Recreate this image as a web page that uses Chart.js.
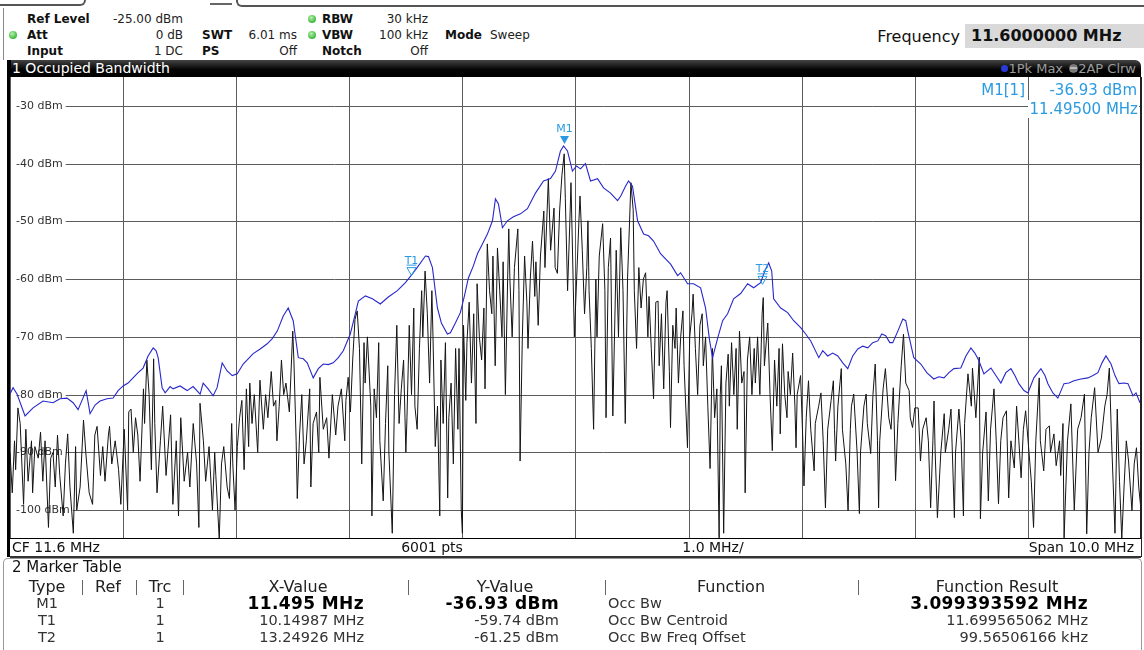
<!DOCTYPE html>
<html>
<head>
<meta charset="utf-8">
<script src="https://cdn.jsdelivr.net/npm/chart.js@4.4.1/dist/chart.umd.min.js"></script>
<style>
  html,body{margin:0;padding:0;}
  body{width:1144px;height:650px;overflow:hidden;background:#fff;position:relative;
       font-family:"DejaVu Sans",Verdana,sans-serif;color:#222;}
  .t{position:absolute;white-space:nowrap;height:16px;line-height:16px;font-size:12px;}
  .b{font-weight:bold;color:#111;}
  .r{text-align:right;}
  .c{text-align:center;}
  .dot{position:absolute;width:8px;height:8px;border-radius:50%;
       background:radial-gradient(circle at 40% 35%,#b8f0b0,#3fb83a 70%);}
  .line{position:absolute;background:#555;}
  #plot{position:absolute;left:10px;top:77px;width:1131px;height:462px;}
  .mk{position:absolute;white-space:nowrap;font-size:15px;line-height:18px;height:18px;color:#2a9be0;}
  .bb{position:absolute;white-space:nowrap;font-size:14px;line-height:17px;height:17px;color:#111;}
  .tb{position:absolute;white-space:nowrap;font-size:16px;line-height:17px;height:17px;color:#222;}
  .tv{position:absolute;white-space:nowrap;font-size:14.5px;line-height:17px;height:17px;color:#333;}
  .tvb{position:absolute;white-space:nowrap;font-size:17px;line-height:17px;height:17px;color:#000;font-weight:bold;letter-spacing:0.4px;}
</style>
</head>
<body>

<!-- softkey tabs along the top edge -->
<div style="position:absolute;left:0;top:0;width:84px;height:4px;border-bottom:2px solid #555;border-right:2px solid #555;border-bottom-right-radius:6px;"></div>
<div style="position:absolute;left:210px;top:3px;width:22px;height:2px;background:#666;"></div>
<div style="position:absolute;left:236px;top:0;width:908px;height:5px;border-bottom:2px solid #555;border-left:2px solid #555;border-bottom-left-radius:6px;"></div>
<div style="position:absolute;left:3px;top:8px;width:1px;height:52px;background:#888;"></div>

<!-- instrument settings -->
<div class="t b" style="left:27px;top:11px;">Ref Level</div>
<div class="t r" style="left:100px;width:83px;top:11px;">-25.00 dBm</div>
<div class="dot" style="left:9px;top:31px;"></div>
<div class="t b" style="left:27px;top:27px;">Att</div>
<div class="t r" style="left:90px;width:93px;top:27px;">0 dB</div>
<div class="t b" style="left:27px;top:43px;">Input</div>
<div class="t r" style="left:90px;width:93px;top:43px;">1 DC</div>
<div class="t b" style="left:202px;top:27px;">SWT</div>
<div class="t r" style="left:230px;width:67px;top:27px;">6.01 ms</div>
<div class="t b" style="left:202px;top:43px;">PS</div>
<div class="t r" style="left:230px;width:67px;top:43px;">Off</div>
<div class="dot" style="left:308px;top:15px;"></div>
<div class="dot" style="left:308px;top:31px;"></div>
<div class="t b" style="left:322px;top:11px;">RBW</div>
<div class="t r" style="left:360px;width:68px;top:11px;">30 kHz</div>
<div class="t b" style="left:322px;top:27px;">VBW</div>
<div class="t r" style="left:360px;width:68px;top:27px;">100 kHz</div>
<div class="t b" style="left:322px;top:43px;">Notch</div>
<div class="t r" style="left:360px;width:68px;top:43px;">Off</div>
<div class="t b" style="left:445px;top:27px;">Mode</div>
<div class="t" style="left:490px;top:27px;">Sweep</div>

<div class="t r" style="left:830px;width:130px;top:27px;height:20px;line-height:20px;font-size:16px;color:#111;">Frequency</div>
<div style="position:absolute;left:965px;top:24px;width:179px;height:24px;background:#d9d9d9;"></div>
<div class="t b" style="left:971px;top:26px;height:20px;line-height:20px;font-size:16px;color:#111;">11.6000000 MHz</div>

<!-- window title bar -->
<div style="position:absolute;left:8px;top:60px;width:1133px;height:17px;background:linear-gradient(#444,#050505 55%,#000);border-top-right-radius:6px;"></div>
<div class="t" style="left:12px;top:60px;height:17px;line-height:17px;font-size:14px;color:#fff;">1 Occupied Bandwidth</div>
<div class="t r" style="left:900px;width:236px;top:60px;height:17px;line-height:17px;font-size:13px;color:#9a9a9a;">
  <span style="display:inline-block;width:7px;height:7px;border-radius:50%;background:#2a3ad8;vertical-align:1px;"></span>1Pk Max
  <span style="display:inline-block;width:7px;height:7px;border-radius:50%;border:1px solid #888;background:linear-gradient(#777 0 30%,#bbb 30% 60%,#777 60%);vertical-align:0px;margin-left:2px;"></span>2AP Clrw</div>

<!-- diagram frame -->
<div style="position:absolute;left:7px;top:60px;width:4px;height:497px;background:#000;"></div>
<div id="plot"><canvas id="c" width="1131" height="462"></canvas></div>
<div style="position:absolute;left:1140px;top:77px;width:2px;height:480px;background:#222;"></div>

<!-- marker readout -->
<div id="mkName" class="mk r" style="left:930px;width:95px;top:81px;"></div>
<div id="mkLevel" class="mk r" style="left:1030px;width:107px;top:81px;"></div>
<div id="mkFreq" class="mk r" style="left:1028px;width:110px;top:100px;background:#fff;padding-right:1px;"></div>

<!-- footer of the diagram -->
<div style="position:absolute;left:10px;top:538px;width:1131px;height:17px;border-top:1px solid #000;border-bottom:2px solid #333;background:#fff;"></div>
<div class="bb" style="left:12px;top:539px;">CF 11.6 MHz</div>
<div class="bb c" style="left:382px;width:100px;top:539px;">6001 pts</div>
<div class="bb c" style="left:663px;width:100px;top:539px;">1.0 MHz/</div>
<div class="bb r" style="left:934px;width:200px;top:539px;">Span 10.0 MHz</div>

<!-- marker table window -->
<div style="position:absolute;left:3px;top:558px;width:1137px;height:92px;border:1px solid #999;border-bottom:none;border-radius:5px 5px 0 0;"></div>
<div class="tb" style="left:12px;top:559px;color:#111;font-size:15px;">2 Marker Table</div>
<div id="table"></div>

<script>
// ---- trace 1: 1Pk Max (frequency in MHz, level in dBm) ----
const pkMaxFreq = [
  6.600,6.627,6.662,6.733,6.804,6.892,6.981,7.042,7.104,7.158,
  7.202,7.273,7.308,7.352,7.396,7.458,7.512,7.556,7.600,7.644,
  7.688,7.733,7.777,7.821,7.866,7.892,7.910,7.945,7.972,8.016,
  8.042,8.104,8.166,8.219,8.281,8.308,8.352,8.396,8.431,8.476,
  8.520,8.565,8.609,8.662,8.706,8.750,8.812,8.874,8.919,8.963,
  9.016,9.060,9.104,9.149,9.193,9.228,9.281,9.326,9.370,9.414,
  9.458,9.503,9.547,9.609,9.653,9.680,9.742,9.804,9.874,9.945,
  10.025,10.096,10.158,10.211,10.273,10.300,10.335,10.379,10.414,10.467,
  10.494,10.538,10.582,10.618,10.653,10.697,10.733,10.777,10.821,10.866,
  10.892,10.919,10.954,10.998,11.051,11.113,11.175,11.212,11.246,11.317,
  11.379,11.423,11.467,11.495,11.529,11.573,11.609,11.644,11.688,11.733,
  11.795,11.848,11.910,11.972,12.000,12.042,12.069,12.104,12.149,12.202,
  12.246,12.290,12.352,12.396,12.441,12.503,12.529,12.591,12.644,12.706,
  12.750,12.786,12.812,12.857,12.901,12.945,12.998,13.060,13.122,13.175,
  13.237,13.273,13.308,13.335,13.352,13.414,13.476,13.529,13.591,13.635,
  13.680,13.751,13.786,13.830,13.874,13.919,13.963,14.007,14.051,14.096,
  14.140,14.184,14.228,14.273,14.308,14.343,14.379,14.405,14.450,14.494,
  14.520,14.538,14.591,14.653,14.706,14.768,14.812,14.858,14.902,14.946,
  15.007,15.052,15.096,15.131,15.166,15.211,15.273,15.317,15.361,15.405,
  15.450,15.485,15.520,15.565,15.600,15.653,15.715,15.751,15.777,15.821,
  15.865,15.919,15.963,16.007,16.069,16.131,16.175,16.219,16.255,16.290,
  16.335,16.370,16.405,16.450,16.485,16.529,16.556,16.591
];
const pkMaxLevel = [
  -79.9,-78.8,-79.9,-83.7,-82.3,-81.1,-81.4,-80.7,-80.6,-81.4,
  -82.6,-79.3,-83.3,-81.8,-81.1,-80.7,-80.6,-79.3,-78.5,-78.0,
  -77.1,-76.2,-75.4,-73.3,-71.9,-72.4,-73.6,-78.8,-79.7,-78.6,
  -79.0,-78.5,-79.3,-78.6,-79.9,-78.0,-79.0,-80.2,-78.8,-74.5,
  -75.9,-76.7,-76.4,-74.7,-73.8,-72.9,-72.1,-71.2,-70.3,-69.0,
  -66.4,-65.0,-67.2,-73.6,-73.8,-74.5,-77.1,-75.5,-74.7,-74.8,
  -74.5,-73.6,-72.4,-69.5,-66.0,-63.8,-62.9,-63.4,-64.3,-63.1,
  -62.0,-60.6,-59.1,-57.7,-56.0,-56.1,-58.0,-65.0,-67.6,-69.5,
  -69.3,-67.6,-65.8,-62.9,-59.8,-57.7,-55.6,-53.9,-52.2,-49.9,
  -46.1,-47.0,-51.1,-49.9,-49.2,-48.7,-47.8,-46.4,-45.1,-43.0,
  -42.6,-41.3,-37.8,-36.93,-37.8,-41.3,-40.4,-40.9,-40.0,-43.0,
  -42.6,-44.2,-45.1,-46.4,-45.6,-43.9,-43.0,-43.9,-49.9,-52.2,
  -52.5,-53.4,-55.6,-56.5,-57.4,-59.4,-58.9,-60.8,-60.8,-61.5,
  -65.0,-70.7,-73.6,-70.2,-67.2,-66.0,-63.4,-62.5,-60.8,-61.5,
  -60.6,-58.6,-57.2,-58.6,-63.4,-65.0,-65.8,-67.2,-68.4,-69.5,
  -70.7,-73.6,-72.4,-73.3,-72.8,-73.3,-74.5,-75.5,-73.3,-72.1,
  -71.6,-71.9,-71.0,-70.7,-69.5,-69.8,-71.0,-71.0,-69.0,-66.9,
  -67.2,-69.0,-73.6,-74.7,-76.2,-77.3,-76.9,-77.1,-76.2,-75.5,
  -75.4,-73.3,-71.9,-72.8,-74.1,-76.4,-75.4,-76.7,-78.0,-76.2,
  -75.5,-76.7,-78.1,-79.3,-79.7,-77.1,-75.5,-76.7,-78.1,-79.7,
  -80.6,-78.1,-78.0,-77.6,-77.3,-77.1,-76.7,-76.2,-74.5,-73.3,
  -74.7,-76.7,-78.1,-78.0,-78.1,-80.2,-79.7,-81.4
];

// ---- trace 2: 2AP Clrw (frequency in MHz, level in dBm) ----
const clrwFreq = [
  6.60,6.62,6.64,6.65,6.67,6.69,6.72,6.74,6.76,6.79,
  6.80,6.82,6.85,6.87,6.89,6.91,6.94,6.96,6.98,7.00,
  7.02,7.04,7.07,7.09,7.11,7.13,7.16,7.18,7.19,7.22,
  7.25,7.27,7.30,7.33,7.35,7.37,7.40,7.42,7.44,7.47,
  7.48,7.50,7.53,7.56,7.58,7.61,7.64,7.65,7.67,7.69,
  7.71,7.73,7.75,7.78,7.79,7.81,7.83,7.85,7.87,7.88,
  7.90,7.93,7.95,7.98,8.02,8.04,8.07,8.09,8.11,8.14,
  8.17,8.19,8.22,8.25,8.27,8.28,8.31,8.33,8.36,8.39,
  8.41,8.42,8.45,8.47,8.49,8.52,8.54,8.56,8.57,8.59,
  8.61,8.63,8.65,8.67,8.69,8.71,8.72,8.74,8.76,8.79,
  8.81,8.84,8.86,8.88,8.91,8.93,8.95,8.96,8.98,9.00,
  9.02,9.04,9.07,9.10,9.11,9.13,9.14,9.16,9.18,9.20,
  9.22,9.25,9.26,9.28,9.31,9.33,9.34,9.37,9.40,9.42,
  9.45,9.48,9.50,9.53,9.56,9.57,9.59,9.61,9.63,9.65,
  9.67,9.69,9.71,9.73,9.74,9.76,9.79,9.80,9.82,9.84,
  9.86,9.87,9.90,9.92,9.94,9.95,9.98,10.00,10.02,10.04,
  10.06,10.08,10.10,10.11,10.13,10.15,10.17,10.18,10.20,10.22,
  10.24,10.25,10.27,10.29,10.31,10.33,10.34,10.36,10.38,10.40,
  10.41,10.43,10.45,10.47,10.48,10.50,10.52,10.54,10.56,10.57,
  10.59,10.60,10.61,10.63,10.64,10.66,10.68,10.70,10.72,10.73,
  10.75,10.77,10.79,10.80,10.82,10.84,10.86,10.87,10.89,10.91,
  10.93,10.95,10.96,10.98,11.00,11.01,11.02,11.04,11.06,11.09,
  11.10,11.11,11.13,11.15,11.17,11.18,11.20,11.22,11.24,11.25,
  11.27,11.29,11.32,11.33,11.36,11.38,11.41,11.42,11.44,11.46,
  11.48,11.50,11.51,11.53,11.55,11.56,11.57,11.59,11.61,11.63,
  11.64,11.66,11.68,11.70,11.71,11.72,11.74,11.76,11.78,11.79,
  11.81,11.84,11.86,11.87,11.89,11.91,11.93,11.95,11.96,11.98,
  12.00,12.02,12.04,12.06,12.09,12.11,12.12,12.14,12.16,12.18,
  12.20,12.22,12.24,12.25,12.27,12.29,12.31,12.33,12.34,12.36,
  12.38,12.40,12.41,12.43,12.44,12.46,12.48,12.49,12.51,12.53,
  12.55,12.56,12.59,12.61,12.63,12.64,12.66,12.68,12.70,12.72,
  12.73,12.75,12.77,12.79,12.81,12.83,12.85,12.87,12.88,12.89,
  12.91,12.93,12.95,12.96,12.98,13.00,13.02,13.03,13.05,13.07,
  13.09,13.10,13.12,13.14,13.16,13.18,13.19,13.21,13.23,13.25,
  13.26,13.27,13.29,13.30,13.32,13.34,13.36,13.38,13.40,13.41,
  13.43,13.45,13.47,13.48,13.50,13.52,13.54,13.55,13.56,13.59,
  13.61,13.62,13.64,13.66,13.68,13.71,13.72,13.75,13.77,13.79,
  13.81,13.83,13.86,13.88,13.89,13.90,13.92,13.95,13.96,13.99,
  14.01,14.03,14.04,14.06,14.09,14.11,14.12,14.15,14.17,14.18,
  14.21,14.23,14.25,14.27,14.28,14.29,14.32,14.34,14.37,14.39,
  14.41,14.43,14.45,14.48,14.50,14.52,14.55,14.56,14.58,14.60,
  14.63,14.65,14.67,14.70,14.72,14.74,14.76,14.77,14.78,14.80,
  14.83,14.86,14.87,14.90,14.92,14.95,14.96,14.99,15.01,15.03,
  15.04,15.07,15.10,15.11,15.14,15.17,15.18,15.20,15.23,15.25,
  15.27,15.30,15.32,15.34,15.36,15.38,15.41,15.43,15.45,15.48,
  15.50,15.52,15.54,15.56,15.58,15.61,15.63,15.65,15.67,15.70,
  15.71,15.74,15.76,15.79,15.80,15.83,15.85,15.88,15.89,15.91,
  15.92,15.95,15.98,16.01,16.04,16.07,16.10,16.12,16.14,16.16,
  16.19,16.22,16.25,16.28,16.30,16.32,16.34,16.37,16.39,16.41,
  16.43,16.45,16.47,16.49,16.52,16.54,16.56,16.58,16.60
];
const clrwLevel = [
  -90,-97,-88,-93,-82.3,-85,-99,-86,-95,-88,
  -97,-89,-91,-86.5,-95,-88,-103,-91,-90,-96,
  -87,-94,-101,-92,-86.8,-96,-104,-89,-100,-96,
  -84.4,-90,-97,-99,-87,-85.5,-94,-89,-95,-87,
  -85.5,-92,-88,-93,-99,-86,-100,-83,-82.5,-90,
  -84,-87,-95,-79,-85,-74,-80,-93,-73.8,-85,
  -97,-88,-82,-94,-83.5,-99,-88,-101,-84,-95,
  -90,-96,-85,-92,-103,-81.5,-88,-95,-89,-100,
  -90,-94,-105,-92,-89,-96,-98,-85,-92,-100,
  -89,-84,-81,-93,-79,-89,-78,-85,-80,-90,
  -77.5,-86,-80,-84,-76,-82,-81,-88,-82,-74,
  -80,-78,-83,-69,-74,-88,-98,-87,-80,-92,
  -88,-79,-96,-85,-83,-90,-77,-86,-84,-91,
  -80,-87,-82,-79,-88,-81,-77,-83,-74,-67,
  -65.5,-72,-92,-71,-78,-70,-82,-101,-79,-84,
  -71,-88,-98.4,-85,-75,-90,-104,-80,-68,-85,
  -79,-74,-90,-84,-68,-80,-65,-82,-86,-72,
  -62,-70,-58.6,-66,-78,-62,-70,-89,-82,-101,
  -74,-85,-71,-97.9,-84,-78,-92,-72,-86,-72,
  -100,-104,-68,-81,-71,-64,-78,-66,-85,-60.8,
  -70,-74,-65,-79,-53.9,-62,-66,-56,-75,-54.6,
  -62,-70,-57,-80,-60,-51.3,-60,-70,-58,-51.3,
  -62,-91.5,-70,-56,-64,-72,-60,-53.4,-63,-57,
  -68,-56,-48.2,-58,-42.6,-55,-47.7,-58,-59,-48,
  -42,-38.3,-46,-62,-50,-43.3,-52,-70,-60,-50,
  -45.6,-55,-66,-58,-49.9,-62,-72,-86,-60,-70,
  -56,-50.4,-62,-84,-58,-52.9,-83.7,-65,-55,-70,
  -51.1,-62,-85,-60,-43.3,-48,-62,-72,-58,-65,
  -60,-58.9,-70,-63,-72,-80.7,-64,-63.8,-75,-66,
  -79,-64,-62,-76,-85.7,-68,-72,-65,-78,-70,
  -65.5,-75,-89.2,-70,-66,-62.6,-72,-80,-68,-66,
  -75,-70,-82,-92.8,-72,-84,-79,-104.8,-80,-75,
  -104,-78,-73,-82,-71,-80,-72,-86,-69,-78,
  -76,-97,-74,-70,-80,-72,-78,-70,-80,-66,
  -63.2,-75,-70,-67.6,-80,-89.7,-74,-82,-72,-86.8,
  -71.2,-80,-84,-76,-80,-72.8,-82,-89.2,-80,-76.7,
  -88,-95.8,-84,-77.6,-86,-93.2,-85,-82,-79.7,-88,
  -99.6,-86,-81,-77.6,-86,-91.5,-82,-75.5,-86,-92,
  -100.1,-86,-82,-79.9,-90,-100.6,-90,-82,-79.9,-85,
  -90.2,-80,-74.7,-88,-99.6,-88,-79,-75.5,-84,-86,
  -78.8,-94.9,-85,-75,-69.5,-78,-79.3,-84,-85.7,-82.3,
  -82.3,-91.5,-86,-84,-88,-99.6,-88,-81.1,-90,-101.3,
  -90,-83.3,-90,-86,-82.5,-101.3,-90,-82.5,-88,-101,
  -85,-76.4,-82,-75.4,-84,-73.5,-101.5,-90,-83,-98.4,
  -86,-79,-88,-98.9,-88,-84,-82.8,-97.9,-88,-92.7,
  -82,-88,-94.4,-86,-82.8,-90,-95,-103,-88,-77.1,
  -88,-93.2,-86,-85.4,-90,-86.8,-92.3,-88,-94,-85,
  -104.8,-88,-81.6,-100,-86,-84,-79.9,-104.1,-90,-84,
  -78.8,-90,-87.5,-82,-80,-75.4,-88,-104,-82.5,-95,
  -105,-96,-88,-91.5,-100.1,-92,-89.2,-96,-100
];

// ---- axes ----
const freqMin = 6.6, freqMax = 16.6;           // CF 11.6 MHz, span 10 MHz
const levelMin = -105, levelMax = -25;
const freqGrid = [6.6, 7.6, 8.6, 9.6, 10.6, 11.6, 12.6, 13.6, 14.6, 15.6, 16.6];
const levelTicks = [-30, -40, -50, -60, -70, -80, -90, -100];

// ---- markers ----
const markerNames  = ['M1', 'T1', 'T2'];
const markerFreq   = [11.495, 10.14987, 13.24926];
const markerDigits = [3, 5, 5];
const markerLevel  = [-36.93, -59.74, -61.25];
const markerTrace  = [1, 1, 1];
const markerFilled = [true, false, false];

// ---- measurement results ----
const functionNames   = ['Occ Bw', 'Occ Bw Centroid', 'Occ Bw Freq Offset'];
const functionResults = ['3.099393592 MHz', '11.699565062 MHz', '99.56506166 kHz'];

const MARKER_BLUE = '#2a9be0';

// grid, level labels and marker symbols
const spectrumDecor = {
  id: 'spectrumDecor',
  beforeDatasetsDraw(chart) {
    const {ctx, chartArea: a, scales: {x, y}} = chart;
    ctx.save();
    ctx.strokeStyle = '#5c5c5c';
    ctx.lineWidth = 1;
    freqGrid.forEach(f => {
      let px = Math.round(x.getPixelForValue(f)) + 0.5;
      px = Math.min(Math.max(px, a.left + 0.5), a.right - 0.5);
      ctx.beginPath(); ctx.moveTo(px, a.top); ctx.lineTo(px, a.bottom); ctx.stroke();
    });
    ctx.font = '11px "DejaVu Sans", sans-serif';
    ctx.textBaseline = 'middle';
    ctx.fillStyle = '#333';
    levelTicks.forEach(v => {
      const py = Math.round(y.getPixelForValue(v)) + 0.5;
      const label = v + ' dBm';
      const w = ctx.measureText(label).width;
      ctx.beginPath(); ctx.moveTo(a.left + 6 + w + 3, py); ctx.lineTo(a.right, py); ctx.stroke();
      ctx.fillText(label, a.left + 6, py);
    });
    ctx.restore();
  },
  afterDatasetsDraw(chart) {
    const {ctx, scales: {x, y}} = chart;
    ctx.save();
    ctx.font = '11px "DejaVu Sans", sans-serif';
    ctx.textAlign = 'center';
    ctx.textBaseline = 'alphabetic';
    markerNames.forEach((name, i) => {
      const px = Math.round(x.getPixelForValue(markerFreq[i])) + 0.5;
      const tip = y.getPixelForValue(markerLevel[i]) - 2;
      ctx.beginPath();
      ctx.moveTo(px, tip);
      ctx.lineTo(px - 4.5, tip - 8);
      ctx.lineTo(px + 4.5, tip - 8);
      ctx.closePath();
      if (markerFilled[i]) {
        ctx.fillStyle = MARKER_BLUE; ctx.fill();
      } else {
        ctx.strokeStyle = MARKER_BLUE; ctx.lineWidth = 1; ctx.stroke();
        ctx.beginPath(); ctx.moveTo(px - 5, tip - 10.5); ctx.lineTo(px + 5, tip - 10.5); ctx.stroke();
      }
      ctx.fillStyle = MARKER_BLUE;
      ctx.fillText(name, px, tip - 12);
    });
    ctx.restore();
  }
};

const toPoints = (fs, ls) => fs.map((f, i) => ({x: f, y: ls[i]}));

new Chart(document.getElementById('c'), {
  type: 'line',
  data: {
    datasets: [
      {label: '1Pk Max', data: toPoints(pkMaxFreq, pkMaxLevel),
       borderColor: '#2727cc', borderWidth: 1.1, pointRadius: 0, tension: 0},
      {label: '2AP Clrw', data: toPoints(clrwFreq, clrwLevel),
       borderColor: '#141414', borderWidth: 1, pointRadius: 0, tension: 0}
    ]
  },
  options: {
    responsive: false,
    animation: false,
    events: [],
    layout: {padding: 0},
    plugins: {legend: {display: false}, tooltip: {enabled: false}},
    scales: {
      x: {type: 'linear', min: freqMin, max: freqMax, display: false},
      y: {type: 'linear', min: levelMin, max: levelMax, display: false}
    }
  },
  plugins: [spectrumDecor]
});

// marker readout at the top right of the diagram
document.getElementById('mkName').textContent = markerNames[0] + '[' + markerTrace[0] + ']';
document.getElementById('mkLevel').textContent = markerLevel[0].toFixed(2) + ' dBm';
document.getElementById('mkFreq').textContent = markerFreq[0].toFixed(5) + ' MHz';

// marker table
(function buildTable() {
  const host = document.getElementById('table');
  const add = (cls, text, style) => {
    const d = document.createElement('div');
    d.className = cls; d.textContent = text; d.setAttribute('style', style);
    host.appendChild(d);
  };
  const hy = 578;
  add('tb c', 'Type', `left:17px;width:60px;top:${hy}px;`);
  add('tb c', 'Ref', `left:83px;width:50px;top:${hy}px;`);
  add('tb c', 'Trc', `left:137px;width:46px;top:${hy}px;`);
  add('tb c', 'X-Value', `left:198px;width:200px;top:${hy}px;`);
  add('tb c', 'Y-Value', `left:405px;width:200px;top:${hy}px;`);
  add('tb c', 'Function', `left:631px;width:200px;top:${hy}px;`);
  add('tb c', 'Function Result', `left:897px;width:200px;top:${hy}px;`);
  [82, 136, 183, 408, 605, 858].forEach(sx => {
    const s = document.createElement('div');
    s.className = 'line';
    s.setAttribute('style', `left:${sx}px;top:580px;width:1px;height:15px;background:#666;`);
    host.appendChild(s);
  });
  markerNames.forEach((name, i) => {
    const ry = 595 + i * 17;
    const bold = i === 0;
    add('tv c', name, `left:17px;width:60px;top:${ry}px;`);
    add('tv c', String(markerTrace[i]), `left:137px;width:46px;top:${ry}px;`);
    add(bold ? 'tvb r' : 'tv r', markerFreq[i].toFixed(markerDigits[i]) + ' MHz', `left:190px;width:174px;top:${ry}px;`);
    add(bold ? 'tvb r' : 'tv r', markerLevel[i].toFixed(2) + ' dBm', `left:400px;width:159px;top:${ry}px;`);
    add('tv', functionNames[i], `left:608px;top:${ry}px;`);
    add(bold ? 'tvb r' : 'tv r', functionResults[i], `left:860px;width:228px;top:${ry}px;`);
  });
})();
</script>
</body>
</html>
